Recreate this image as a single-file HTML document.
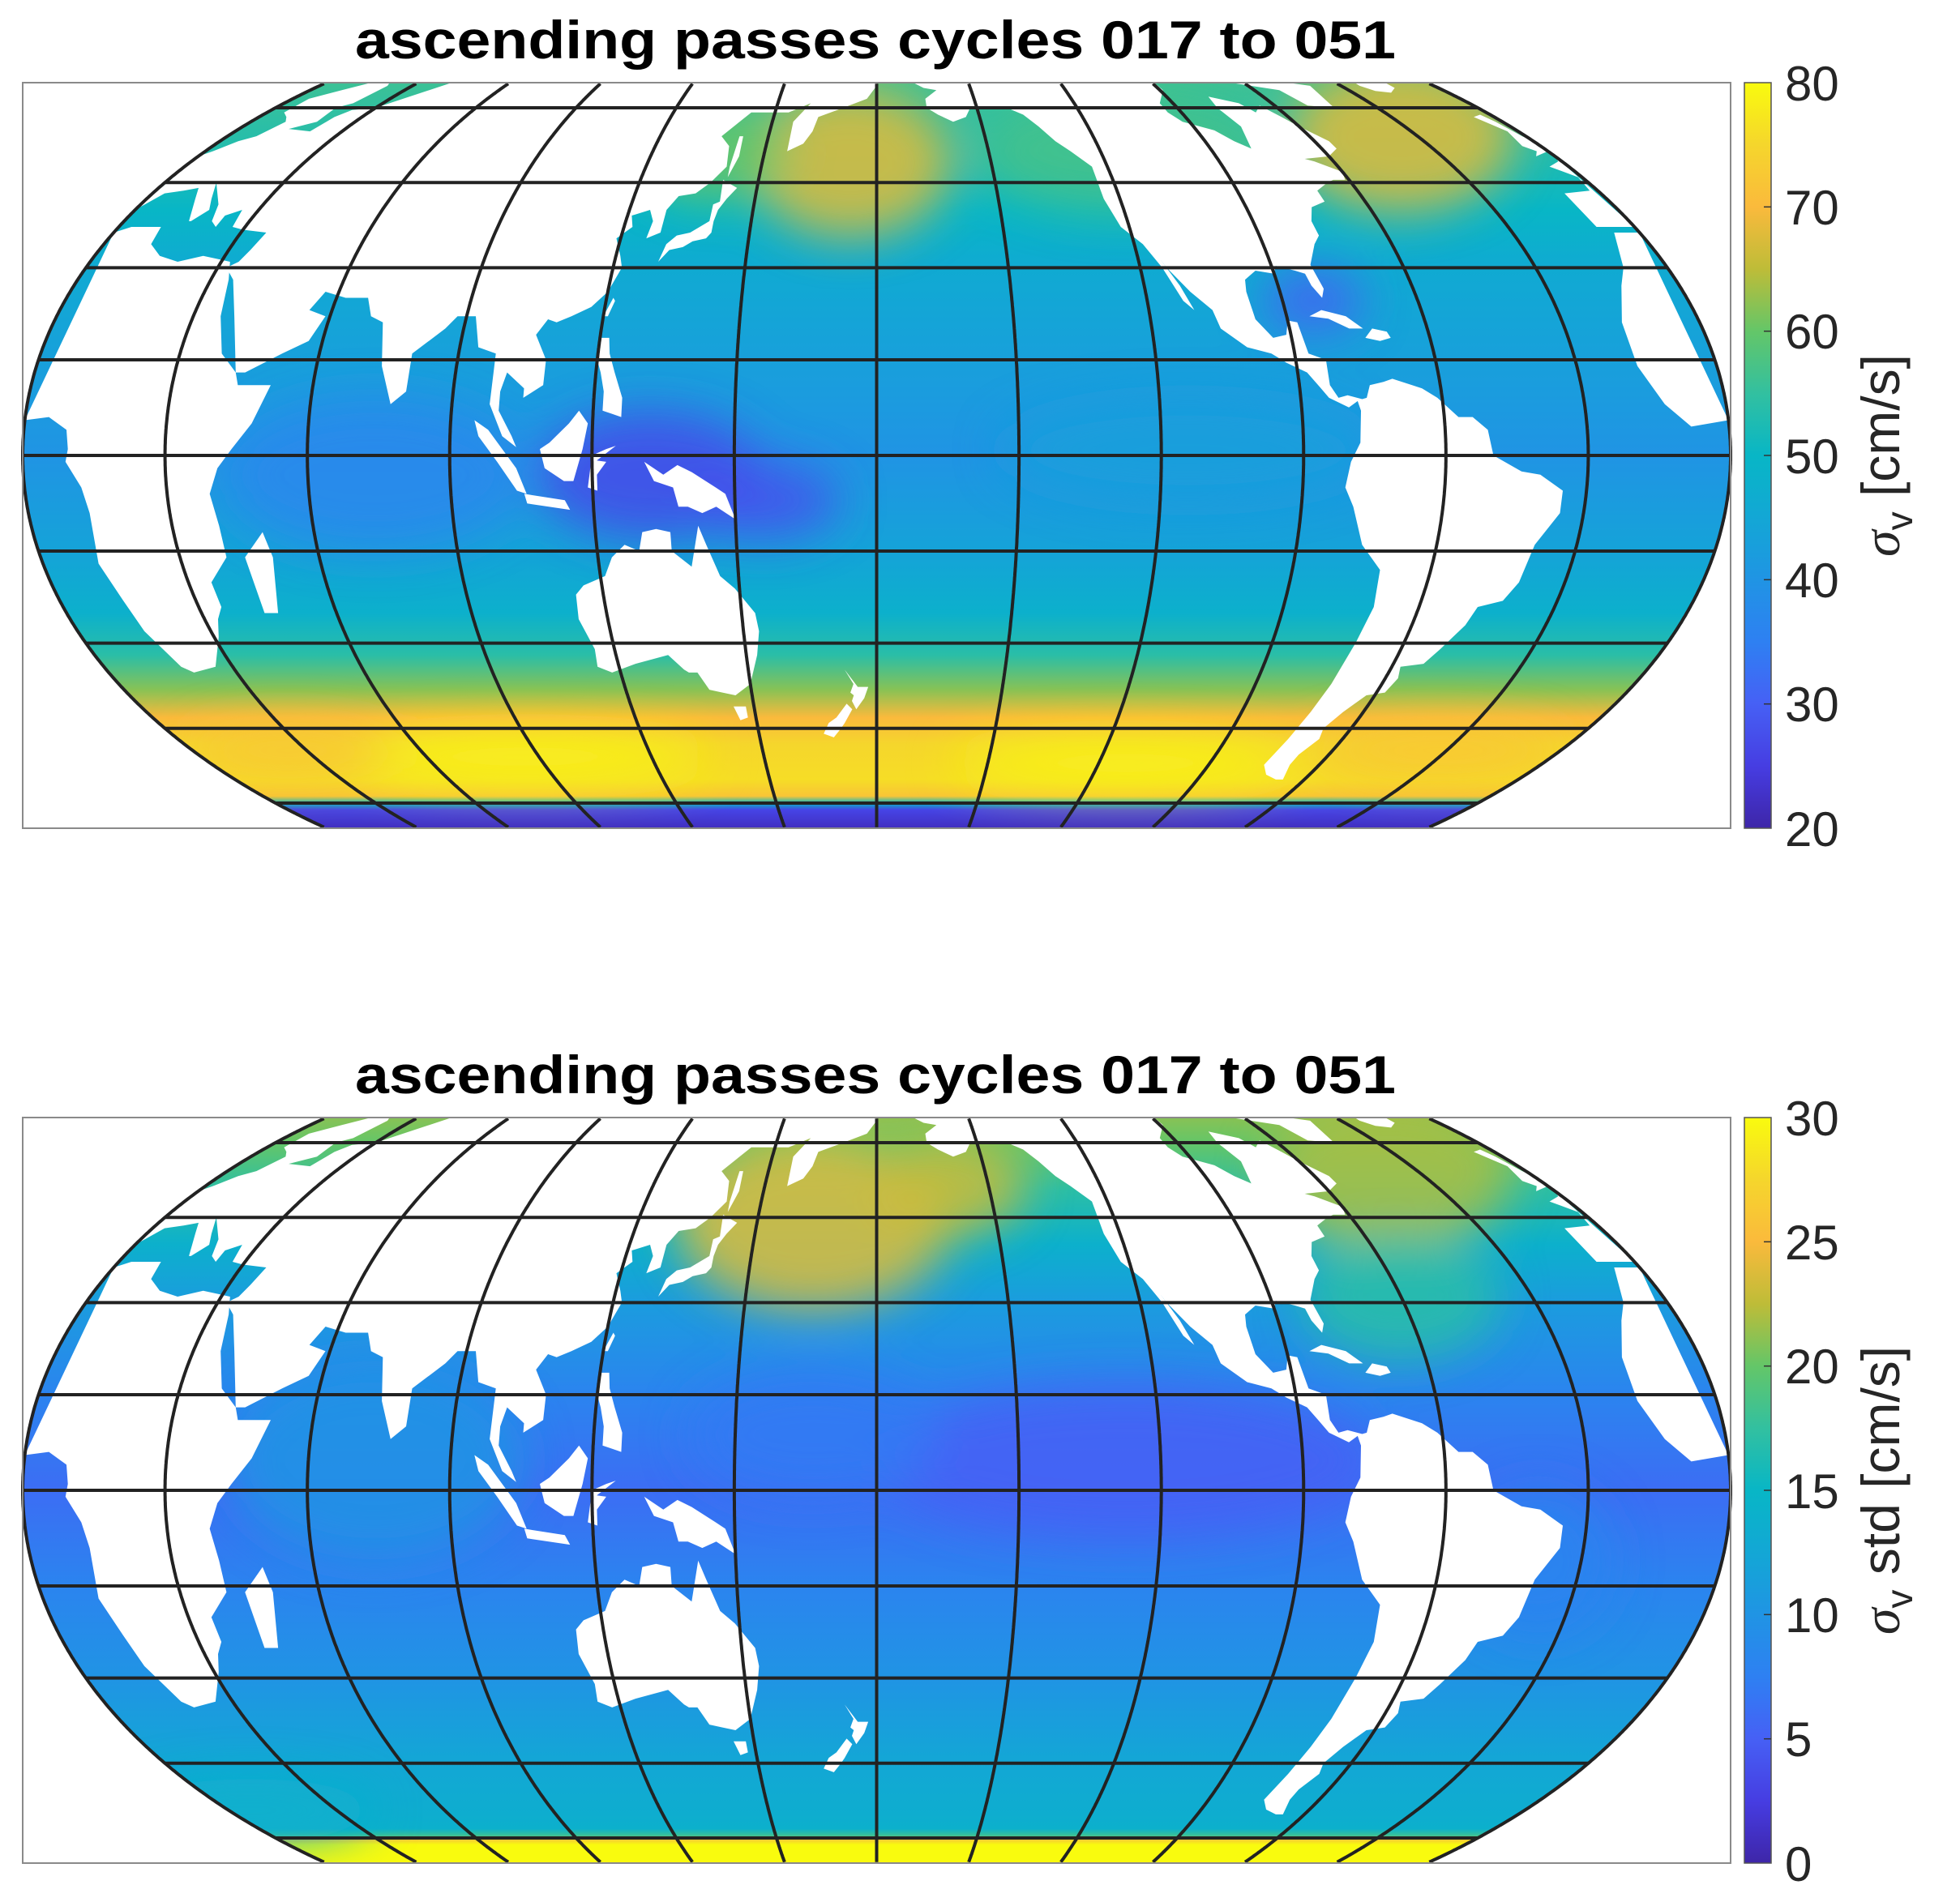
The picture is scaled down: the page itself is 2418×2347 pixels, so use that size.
<!DOCTYPE html>
<html><head><meta charset="utf-8"><style>
html,body{margin:0;padding:0;background:#fff;}
svg{display:block;}
</style></head><body>
<svg id="s" xmlns="http://www.w3.org/2000/svg" width="2418" height="2347" viewBox="0 0 2418 2347">
<defs>
<filter id="bl" x="-50%" y="-50%" width="200%" height="200%"><feGaussianBlur stdDeviation="28"/></filter>
</defs>
<g id="maps"></g>
<g font-family="'Liberation Sans',sans-serif" fill="#000">
<text x="1080" y="72" font-size="66" font-weight="bold" text-anchor="middle" textLength="1284" lengthAdjust="spacingAndGlyphs">ascending passes cycles 017 to 051</text>
<text x="1080" y="1349" font-size="66" font-weight="bold" text-anchor="middle" textLength="1284" lengthAdjust="spacingAndGlyphs">ascending passes cycles 017 to 051</text>
</g>
<g font-family="'Liberation Sans',sans-serif" fill="#262626" font-size="60">
<text x="2202" y="124">80</text><text x="2202" y="277">70</text><text x="2202" y="430">60</text><text x="2202" y="584">50</text><text x="2202" y="737">40</text><text x="2202" y="890">30</text><text x="2202" y="1044">20</text>
<text x="2202" y="1401">30</text><text x="2202" y="1554">25</text><text x="2202" y="1707">20</text><text x="2202" y="1861">15</text><text x="2202" y="2014">10</text><text x="2202" y="2167">5</text><text x="2202" y="2321">0</text>
<text transform="translate(2343,562) rotate(-90)" text-anchor="middle" font-size="66"><tspan font-family="'Liberation Serif',serif" font-style="italic">σ</tspan><tspan font-size="46" dy="16">v</tspan><tspan dy="-16"> [cm/s]</tspan></text>
<text transform="translate(2343,1839) rotate(-90)" text-anchor="middle" font-size="66"><tspan font-family="'Liberation Serif',serif" font-style="italic">σ</tspan><tspan font-size="46" dy="16">v</tspan><tspan dy="-16"> std [cm/s]</tspan></text>
</g>
</svg>
<script>
(function(){
var NS="http://www.w3.org/2000/svg";
var svg=document.getElementById('s'), root=document.getElementById('maps'), defs=svg.querySelector('defs');
var HW=1053.5, CX=1081.5, L=28, R=2135, H=920, CUT=460;
function ff(lat){var p=lat*Math.PI/180;return 1-0.27*p*p;}
function dy(lat){var p=lat*Math.PI/180;return 453.4*p-39.9*p*p*p;}
function P(lon,lat,cy){var rel=lon>=0?lon-180:lon+180;var x=CX+rel/180*HW*ff(lat);var y=cy-dy(lat);if(y<cy-CUT)y=cy-CUT;if(y>cy+CUT)y=cy+CUT;return [x,y];}
var PAR=[[0,[62,38,168]],[.08,[70,60,225]],[.167,[70,96,245]],[.25,[46,128,242]],[.333,[32,148,228]],[.42,[18,168,212]],[.5,[8,182,198]],[.583,[50,192,160]],[.667,[100,198,104]],[.75,[190,188,56]],[.833,[250,186,60]],[.917,[245,214,44]],[1,[249,251,14]]];
function col(t){t=Math.max(0,Math.min(1,t));for(var i=0;i<PAR.length-1;i++){if(t<=PAR[i+1][0]){var u=(t-PAR[i][0])/(PAR[i+1][0]-PAR[i][0]);var a=PAR[i][1],b=PAR[i+1][1];return 'rgb('+Math.round(a[0]+u*(b[0]-a[0]))+','+Math.round(a[1]+u*(b[1]-a[1]))+','+Math.round(a[2]+u*(b[2]-a[2]))+')';}}return 'rgb(249,251,14)';}
function el(n,at,par){var e=document.createElementNS(NS,n);for(var k in at)e.setAttribute(k,at[k]);(par||root).appendChild(e);return e;}
function pathOf(pts,cy){var s='';for(var i=0;i<pts.length;i++){var p=P(pts[i][0],pts[i][1],cy);s+=(i?'L':'M')+p[0].toFixed(1)+' '+p[1].toFixed(1);}return s+'Z';}
var LAND=[
[[0,5.5],[5,6],[9,4],[9.5,1],[9,-1],[12,-5],[13,-9],[12,-17],[14,-23],[15,-28],[18,-34],[20,-35],[26,-34],[31,-29],[33,-26],[35,-24],[35,-20],[40,-16],[40,-11],[39,-6],[41,-2],[44,1],[48,5],[51,11],[44,11],[43,13],[39,16],[36,22],[34,28],[32,31],[25,32],[20,31],[15,32],[11,34],[10,37],[3,37],[0,36]],
[[44,-25],[47,-25],[50,-16],[49,-12],[44,-16]],
[[-0.01,5.5],[-8,4.5],[-13,8],[-17,14],[-17,21],[-13,27],[-10,30],[-6,36],[-0.01,36]],
[[-9,37],[-9,43],[-2,43.5],[-1,46],[-5,48],[-1,49],[-0.01,50],[-0.01,37]],
[[-5,50],[-3,51],[-5,52],[-3,55],[-6,58],[-3,58.5],[-2,57],[-1,54],[-0.01,53],[-0.01,51]],
[[-24,65],[-22,63.8],[-18,63.4],[-14,64.5],[-13,66],[-23,66]],
[[0,50],[2,51],[5,53],[8,54],[10,57],[8,58],[5,59],[5,62],[10,64],[14,66],[20,66],[22,65],[21,61],[18,60],[19,57],[14,55.5],[21,55],[22,58],[24,59.5],[30,60],[30,70],[180,70],[180,65],[177,62],[170,60],[163,58],[162,55],[160,52.5],[156,51],[156,57],[160,61],[154,59],[143,59],[137,54],[140,52],[141,48],[138,45],[135,43],[131,42.5],[129,40],[129,36],[126,35],[126.5,38],[125,40],[121,39],[122,37],[119,35],[121,32],[122,30],[120,26],[117,23.5],[113,22],[110,21],[108,21.5],[106,19],[109,15],[109,11],[105,9],[105,10.5],[101,13],[100,10],[100,7],[103,3],[104,1.3],[101,3],[98,8],[98,16],[94,17],[92,22],[88,22],[86,20],[80,16],[80,10],[77,8],[74,14],[72,21],[69,22],[67,25],[62,25],[57,26],[55,23],[59,22],[57,18],[52,16],[45,13],[43,13],[39,22],[35,28],[32,30],[34,31],[35,33],[36,36],[30,36.5],[27,37],[26,40],[23,39],[23,37],[21,38],[19,41],[13,45],[16,42],[18,40],[16,38],[15.5,38],[12,42],[10,44],[7,43.5],[3,43],[0,40]],
[[130,31],[131,34],[133,35.5],[136,36],[140,38],[140,41],[141.5,41.5],[141,45.5],[145,44],[143,42],[141.5,40],[141,38],[141,36],[140,35],[137,34.5],[135,33.5],[132,33]],
[[142,46],[143.5,50],[143,54],[142,54],[141.8,48]],
[[120,18.5],[122,18.5],[122.5,16],[124,13],[126,9],[126,6],[124,6.5],[122,7],[122,10],[121,13],[120,15]],
[[120,22],[121.5,25],[122,24.5],[121,22]],
[[109,1],[110,-2],[114,-4],[116,-4],[118,1],[119,5],[117,7],[115,5],[111,2]],
[[95,5.5],[98,4],[104,-2],[106,-6],[104,-5.5],[100,-1],[96,3]],
[[105.5,-6],[114,-7],[115,-8.5],[106,-7.5]],
[[119,-5],[120,0],[123,1],[125,1.5],[121,-0.8],[123,-1],[121,-3],[121,-5.5]],
[[131,-1],[135,-3],[138,-1.5],[141,-2.6],[146,-5],[148,-6],[150,-10],[146,-8],[143,-9],[140,-8],[138,-8],[137,-5],[133,-4]],
[[114,-22],[116,-20.5],[121,-19],[123,-16],[126,-14],[129,-15],[130,-12],[133,-11.5],[136,-12],[136,-15],[140,-17.5],[142,-11],[143.5,-14],[146,-19],[149,-21],[153,-25],[153.5,-28],[152.5,-32],[150,-37],[146,-39],[143,-38.5],[140,-38],[138,-35],[136,-35],[135,-34.5],[132,-32],[124,-33.5],[118,-35],[115,-34],[115.5,-31],[113.5,-26]],
[[145,-41],[148,-41],[148,-43],[146,-43.5]],
[[172.5,-34.5],[174,-36],[175.5,-37.5],[178,-37.5],[177,-39.5],[175,-41.5],[174,-40],[174.5,-39],[173.7,-38.5],[174.5,-37]],
[[172.7,-40.5],[174,-41.5],[172,-44],[171,-45],[169,-46.7],[166.5,-46],[168,-44],[170,-43]],
[[-168,66],[-165,64.5],[-161,64],[-165,62],[-165,60],[-162,58.5],[-158,57],[-154,58],[-152,60],[-148,60],[-141,60],[-137,58.5],[-134,56],[-131,53],[-128,51],[-124,48],[-124,42],[-122,37],[-118,34],[-115,30],[-112,24.5],[-110,23],[-112,27],[-115,31.5],[-114,30],[-110,26],[-106,23],[-105,20],[-100,17],[-95,16],[-92,14.5],[-88,13],[-86,11],[-84,9],[-80,7.5],[-78,8.5],[-77.5,7],[-78,2],[-80,-1],[-81,-5],[-79,-8],[-76,-14],[-71,-18],[-70,-24],[-71,-30],[-72,-37],[-73,-42],[-74,-47],[-75,-52],[-72,-54],[-68,-55],[-66,-55],[-68,-52],[-68,-50],[-66,-47],[-67,-45],[-65,-42],[-62,-39],[-58,-38.5],[-57,-36],[-58,-34],[-53,-33.5],[-51,-31],[-48,-27],[-47,-24],[-42,-23],[-40,-20],[-39,-14],[-35,-9],[-35,-5.5],[-40,-3],[-44,-2.5],[-50,0],[-51,4],[-54,6],[-57,6],[-61,9],[-64,10.5],[-70,12],[-72,11.5],[-75,11],[-76,9],[-77,8.8],[-80,9.4],[-82,9],[-83.5,11],[-83.5,15],[-87,16],[-88,21],[-90,21.3],[-91,19],[-94,18.5],[-97,21.5],[-97.5,26],[-97,28],[-94,29.5],[-90,29],[-89,30.3],[-85,29.5],[-83,29],[-82.5,27],[-81,25],[-80,26.5],[-81,30.5],[-78,34],[-76,35.5],[-76,38],[-74,40.5],[-70,41.5],[-70,43.5],[-66,45],[-64,45.5],[-61,45.5],[-60,47],[-65,49],[-67,49.5],[-60,50],[-56,51.5],[-56,53],[-60,56],[-62,58],[-64.5,60.5],[-68,59],[-70,61],[-77,62.5],[-78,60],[-76.5,56],[-79,51.5],[-82,53],[-85,55.2],[-92,57],[-94,59],[-94,61],[-89,64],[-82,70],[-168,70]],
[[-50,60.5],[-43,60],[-40,65],[-35,70],[-55,70],[-52,64]],
[[-85,22],[-82,23],[-77,22],[-74,20],[-77,20],[-81,21.6]],
[[-74,18.5],[-72,20],[-69,19.5],[-68.5,18.5],[-71,18]]
];
var PANELS=[
{top:102,vmin:20,vmax:80,
 zonal:[[66,56],[60,55],[50,53],[40,50],[30,46],[15,43],[0,40],[-15,44],[-25,48],[-32,54],[-38,62],[-43,70],[-48,75],[-55,76],[-58.5,72],[-60,50],[-61.5,26],[-70,22]],
 blobs:[[680,130,80,60,68],[1120,110,90,60,68],[570,120,60,40,60],[900,120,120,50,57],[520,380,90,50,27],[610,400,60,30,28],[300,380,120,60,37],[950,360,150,40,43],[1050,240,40,25,30],[420,605,150,22,79],[900,610,140,22,79],[1150,600,100,22,72],[230,600,80,20,72]]},
{top:1379,vmin:0,vmax:30,
 zonal:[[66,21],[60,20],[50,17],[40,14],[30,11],[15,8],[0,6],[-15,8],[-30,10],[-45,12.5],[-55,13.5],[-58,14],[-59.5,18],[-60.5,27],[-61.5,30],[-70,30]],
 blobs:[[650,150,110,70,24],[760,120,60,40,23],[1110,110,100,60,22],[1120,210,80,50,17],[900,340,200,60,5],[650,320,100,50,7],[300,340,120,80,10],[200,620,100,25,14],[1230,420,60,60,8]]}
];
var S=1.543;
PANELS.forEach(function(pn,pi){
 var cy=pn.top+H/2;
 var pts=[];
 for(var la=-90;la<=90;la+=0.5){var y=cy-dy(la);y=Math.max(cy-CUT,Math.min(cy+CUT,y));pts.push([CX-HW*ff(la),y]);}
 var od='';pts.forEach(function(p,i){od+=(i?'L':'M')+p[0].toFixed(1)+' '+p[1].toFixed(1);});
 for(var i=pts.length-1;i>=0;i--){od+='L'+(2*CX-pts[i][0]).toFixed(1)+' '+pts[i][1].toFixed(1);}
 od+='Z';
 var cp=el('clipPath',{id:'cp'+pi},defs);el('path',{d:od},cp);
 var gr=el('linearGradient',{id:'zg'+pi,x1:0,y1:pn.top,x2:0,y2:pn.top+H,gradientUnits:'userSpaceOnUse'},defs);
 pn.zonal.forEach(function(z){var y=cy-dy(z[0]);var off=(y-pn.top)/H;off=Math.max(0,Math.min(1,off));el('stop',{offset:off.toFixed(4),'stop-color':col((z[1]-pn.vmin)/(pn.vmax-pn.vmin))},gr);});
 var g=el('g',{'clip-path':'url(#cp'+pi+')'});
 el('rect',{x:L,y:pn.top,width:R-L,height:H,fill:'url(#zg'+pi+')'},g);
 var bg=el('g',{filter:'url(#bl)'},g);
 pn.blobs.forEach(function(b){el('ellipse',{cx:b[0]*S,cy:pn.top+(b[1]-66)*S,rx:b[2]*S,ry:b[3]*S,fill:col((b[4]-pn.vmin)/(pn.vmax-pn.vmin)),opacity:0.85},bg);});
 var lg=el('g',{},g);
 LAND.forEach(function(poly){el('path',{d:pathOf(poly,cy),fill:'#fff'},lg);});
 var gg=el('g',{stroke:'#222','stroke-width':4,fill:'none'});
 [-60,-45,-30,-15,0,15,30,45,60].forEach(function(la){var f=ff(la);var y=cy-dy(la);el('line',{x1:CX-HW*f,y1:y,x2:CX+HW*f,y2:y},gg);});
 for(var k=-6;k<=6;k++){var d='';var first=true;for(var la=-70;la<=70;la+=0.25){var yy=cy-dy(la);if(Math.abs(yy-cy)>CUT)continue;var x=CX+k/6*HW*ff(la);d+=(first?'M':'L')+x.toFixed(1)+' '+yy.toFixed(1);first=false;}el('path',{d:d},gg);}
 el('rect',{x:L,y:pn.top,width:R-L,height:H,fill:'none',stroke:'#8a8a8a','stroke-width':2});
 var cg=el('linearGradient',{id:'cb'+pi,x1:0,y1:0,x2:0,y2:1},defs);
 for(var i=0;i<=24;i++){el('stop',{offset:(i/24).toFixed(3),'stop-color':col(1-i/24)},cg);}
 el('rect',{x:2152,y:pn.top,width:33,height:H,fill:'url(#cb'+pi+')',stroke:'#555','stroke-width':1.5});
 for(var i=1;i<6;i++){var y=pn.top+i*H/6;el('line',{x1:2176,y1:y,x2:2185,y2:y,stroke:'#333','stroke-width':1.5});}
});
})();
</script>
</body></html>
